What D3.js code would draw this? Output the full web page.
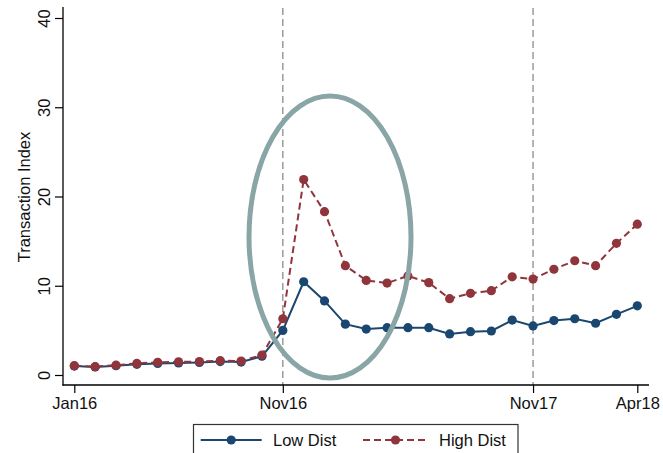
<!DOCTYPE html>
<html>
<head>
<meta charset="utf-8">
<script src="https://cdn.jsdelivr.net/npm/d3@7"></script>
<style>
html,body{margin:0;padding:0;background:#fff;}
svg{display:block;font-family:"Liberation Sans",Arial,sans-serif;}
</style>
</head>
<body>
<svg id="chart" width="663" height="453"></svg>
<script>
const months = ["Jan16","Feb16","Mar16","Apr16","May16","Jun16","Jul16","Aug16","Sep16","Oct16","Nov16","Dec16",
  "Jan17","Feb17","Mar17","Apr17","May17","Jun17","Jul17","Aug17","Sep17","Oct17","Nov17","Dec17",
  "Jan18","Feb18","Mar18","Apr18"];
const lowDist = [1.0,0.9,1.05,1.2,1.3,1.35,1.4,1.5,1.45,2.1,5.0,10.45,8.3,5.7,5.15,5.3,5.3,5.3,4.6,4.85,4.93,6.15,5.5,6.1,6.3,5.8,6.8,7.75];
const highDist = [1.04,0.93,1.1,1.3,1.42,1.48,1.5,1.6,1.56,2.24,6.3,21.9,18.3,12.25,10.6,10.3,11.1,10.35,8.55,9.15,9.45,11.0,10.75,11.85,12.8,12.25,14.75,16.9];
const xTickLabels = ["Jan16","Nov16","Nov17","Apr18"];
const yTicks = [0,10,20,30,40];
const refLines = ["Nov16","Nov17"];
const seriesNames = ["Low Dist","High Dist"];

const svg = d3.select("#chart");
const x = d3.scalePoint().domain(months).range([74.3, 637.3]);
const y = d3.scaleLinear().domain([0,40]).range([375, 18]);

const navy = "#1a476f", maroon = "#90353b";
const fs = "16.5px";

// reference lines
svg.selectAll("line.ref").data(refLines).join("line")
  .attr("x1", d=>x(d)).attr("x2", d=>x(d))
  .attr("y1", 8).attr("y2", 385)
  .attr("stroke", "#8c8c8c").attr("stroke-width", 1.3)
  .attr("stroke-dasharray", "7,4");

// axes
const yAxis = d3.axisLeft(y).tickValues(yTicks).tickSize(8).tickSizeOuter(0).tickPadding(5);
const gy = svg.append("g").attr("transform","translate(63,0)").call(yAxis);
gy.select(".domain").remove();
gy.selectAll(".tick line").attr("stroke","#000").attr("stroke-width",1.2);
gy.selectAll(".tick text").attr("font-size",fs).attr("fill","#111")
  .attr("transform","rotate(-90)").attr("text-anchor","middle")
  .attr("x",0).attr("y",-13).attr("dy","0");

const xAxis = d3.axisBottom(x).tickValues(xTickLabels).tickSize(8).tickSizeOuter(0).tickPadding(4);
const gx = svg.append("g").attr("transform","translate(0,385)").call(xAxis);
gx.select(".domain").remove();
gx.selectAll(".tick line").attr("stroke","#000").attr("stroke-width",1.2);
gx.selectAll(".tick text").attr("font-size",fs).attr("fill","#111");

svg.append("line").attr("x1",63).attr("x2",63).attr("y1",7).attr("y2",385.6).attr("stroke","#000").attr("stroke-width",1.3);
svg.append("line").attr("x1",62.4).attr("x2",649).attr("y1",385).attr("y2",385).attr("stroke","#000").attr("stroke-width",1.3);

svg.append("text").attr("transform","translate(30,197) rotate(-90)")
  .attr("text-anchor","middle").attr("font-size",fs).attr("fill","#111").text("Transaction Index");

const line = d3.line().x((d,i)=>x(months[i])).y(d=>y(d));

// series
svg.append("path").datum(lowDist).attr("d",line).attr("fill","none").attr("stroke",navy).attr("stroke-width",2);
svg.selectAll("circle.low").data(lowDist).join("circle").attr("class","low")
  .attr("cx",(d,i)=>x(months[i])).attr("cy",d=>y(d)).attr("r",4.6).attr("fill",navy);

svg.append("path").datum(highDist).attr("d",line).attr("fill","none").attr("stroke",maroon).attr("stroke-width",2)
  .attr("stroke-dasharray","7,4");
svg.selectAll("circle.high").data(highDist).join("circle").attr("class","high")
  .attr("cx",(d,i)=>x(months[i])).attr("cy",d=>y(d)).attr("r",4.6).attr("fill",maroon);

// ellipse annotation
svg.append("ellipse").attr("cx",330).attr("cy",237).attr("rx",81).attr("ry",141)
  .attr("fill","none").attr("stroke","#89a5a5").attr("stroke-width",5);

// legend
const lg = svg.append("g");
lg.append("rect").attr("x",193.5).attr("y",424.5).attr("width",324.5).attr("height",40)
  .attr("fill","#fff").attr("stroke","#333").attr("stroke-width",1.2);
const items = [
  {name:seriesNames[0], color:navy, dash:null, x0:200.7, x1:261.7, tx:273},
  {name:seriesNames[1], color:maroon, dash:"7,4", x0:363, x1:428, tx:439}
];
items.forEach(it=>{
  lg.append("line").attr("x1",it.x0).attr("x2",it.x1).attr("y1",440).attr("y2",440)
    .attr("stroke",it.color).attr("stroke-width",1.8).attr("stroke-dasharray",it.dash);
  lg.append("circle").attr("cx",(it.x0+it.x1)/2).attr("cy",440).attr("r",4.6).attr("fill",it.color);
  lg.append("text").attr("x",it.tx).attr("y",446).attr("font-size",fs).attr("fill","#111").text(it.name);
});
</script>
</body>
</html>
